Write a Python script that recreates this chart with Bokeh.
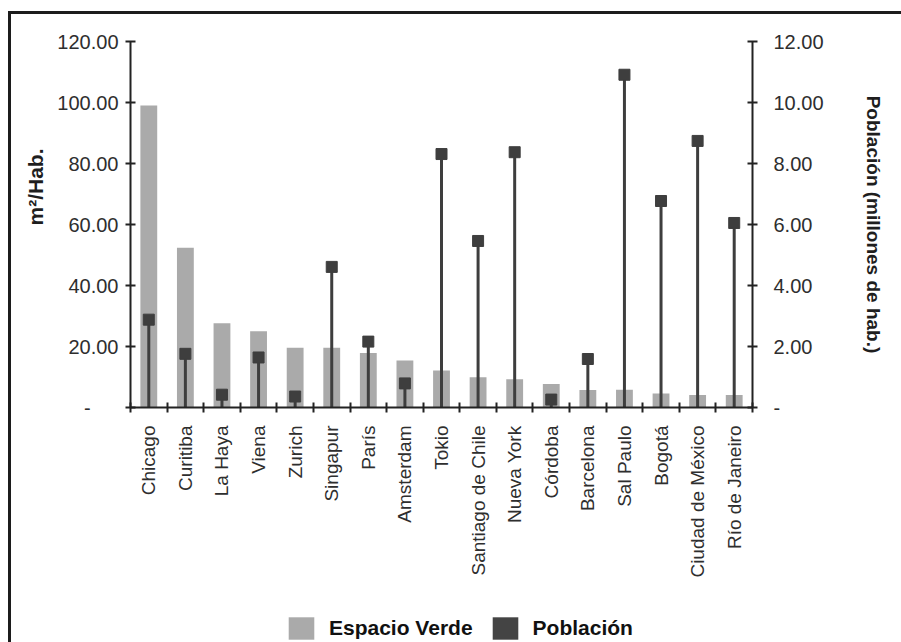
import math
from bokeh.plotting import figure
from bokeh.layouts import column
from bokeh.models import (Range1d, LinearAxis, FixedTicker, NumeralTickFormatter,
                          Legend, LegendItem, ColumnDataSource, Title)
from bokeh.embed import file_html
from bokeh.resources import INLINE

# ---- data ----
cities = ["Chicago", "Curitiba", "La Haya", "Viena", "Zurich", "Singapur", "París",
          "Amsterdam", "Tokio", "Santiago de Chile", "Nueva York", "Córdoba",
          "Barcelona", "Sal Paulo", "Bogotá", "Ciudad de México", "Río de Janeiro"]
espacio_verde = [99.0, 52.4, 27.6, 25.0, 19.6, 19.6, 17.9, 15.4, 12.1, 9.9, 9.3,
                 7.7, 5.7, 5.8, 4.6, 4.1, 4.1]
poblacion = [2.88, 1.76, 0.42, 1.64, 0.36, 4.61, 2.16, 0.79, 8.31, 5.46, 8.37,
             0.26, 1.59, 10.91, 6.77, 8.74, 6.05]
left_ticks = [0, 20, 40, 60, 80, 100, 120]
right_ticks = [0, 2, 4, 6, 8, 10, 12]
series_names = ["Espacio Verde", "Población"]

FONT = "Liberation Sans"
BAR = "#aaaaaa"
DARK = "#3e3e3e"
LEG_DARK = "#444444"
AX = "#222222"
TXT = "#2e2e2e"

n = len(cities)
xs = [i + 0.5 for i in range(n)]
bounds = [float(i) for i in range(n + 1)]

src = ColumnDataSource(dict(x=xs, verde=espacio_verde, pop=poblacion))

p = figure(width=890, height=594, x_range=Range1d(0, n), y_range=Range1d(0, 120),
           output_backend="svg", toolbar_location=None,
           x_axis_location=None, y_axis_location=None,
           min_border_left=119, min_border_right=149,
           min_border_top=27, min_border_bottom=201)
p.extra_y_ranges = {"pop": Range1d(0, 12)}
p.outline_line_color = None
p.grid.visible = False
p.background_fill_color = "white"
p.border_fill_color = "white"

p.vbar(x="x", top="verde", bottom=0, width=0.46, source=src,
       fill_color=BAR, line_color=None)
p.segment(x0="x", y0=0, x1="x", y1="pop", source=src, y_range_name="pop",
          line_color=DARK, line_width=3)
p.scatter(x="x", y="pop", source=src, y_range_name="pop", marker="square",
          size=11, fill_color=DARK, line_color=DARK)


def style_axis(ax, size="20px"):
    ax.axis_line_color = AX
    ax.axis_line_width = 2
    ax.major_tick_line_color = AX
    ax.major_tick_line_width = 2
    ax.minor_tick_line_color = None
    ax.major_label_text_font = FONT
    ax.major_label_text_font_size = size
    ax.major_label_text_color = TXT
    ax.axis_label_text_font = FONT
    ax.axis_label_text_font_size = "19px"
    ax.axis_label_text_font_style = "bold"
    ax.axis_label_text_color = "#1e1e1e"


# x axis: labels at category centres, ticks at category boundaries
xaxis = LinearAxis(ticker=FixedTicker(ticks=xs, minor_ticks=bounds),
                   major_label_overrides={x: c for x, c in zip(xs, cities)})
style_axis(xaxis, "19px")
xaxis.major_tick_in = 0
xaxis.major_tick_out = 0
xaxis.minor_tick_line_color = AX
xaxis.minor_tick_line_width = 2
xaxis.minor_tick_in = 5
xaxis.minor_tick_out = 5
xaxis.major_label_orientation = math.pi / 2
xaxis.major_label_standoff = 13
p.add_layout(xaxis, "below")

laxis = LinearAxis(ticker=FixedTicker(ticks=left_ticks),
                   formatter=NumeralTickFormatter(format="0.00"),
                   major_label_overrides={0: "-" + "\u00a0" * 5})
style_axis(laxis)
laxis.major_tick_in = 5
laxis.major_tick_out = 5
laxis.major_label_standoff = 7
p.add_layout(laxis, "left")

p.add_layout(Title(text="m²/Hab.", align="left", offset=182, standoff=16,
                   text_font=FONT, text_font_size="21px", text_font_style="bold",
                   text_color="#1e1e1e"), "left")

raxis = LinearAxis(y_range_name="pop", ticker=FixedTicker(ticks=right_ticks),
                   formatter=NumeralTickFormatter(format="0.00"),
                   major_label_overrides={0: "-"},
                   axis_label="Población (millones de hab.)")
style_axis(raxis)
raxis.major_tick_in = 5
raxis.major_tick_out = 5
raxis.major_label_standoff = 16
raxis.axis_label_standoff = 36
p.add_layout(raxis, "right")

# ---- legend strip below the chart (frames are aligned by the column) ----
lg = figure(width=890, height=34, x_range=Range1d(0, 1), y_range=Range1d(0, 1),
            output_backend="svg", toolbar_location=None,
            x_axis_location=None, y_axis_location=None, min_border=0)
lg.outline_line_color = None
lg.grid.visible = False
lg.border_fill_color = "white"
lg_src = ColumnDataSource(dict(x=[0.5, 0.5], top=[0.0, 0.0],
                               color=[BAR, LEG_DARK], name=series_names))
r_leg = lg.vbar(x="x", top="top", bottom=0, width=0.0, source=lg_src,
                fill_color="color", line_color=None)

legend = Legend(items=[LegendItem(label=series_names[0], renderers=[r_leg], index=0),
                       LegendItem(label=series_names[1], renderers=[r_leg], index=1)],
                orientation="horizontal", location=(155, 0),
                glyph_width=32, glyph_height=28, label_standoff=12, spacing=16,
                padding=0, margin=0, border_line_color=None,
                background_fill_alpha=0,
                label_text_font=FONT, label_text_font_size="21px",
                label_text_font_style="bold", label_text_color="#111111",
                label_height=28)
lg.add_layout(legend, "center")

layout = column(p, lg, spacing=0)
layout.styles = {"margin-left": "8px", "margin-top": "11px",
                 "border-top": "3px solid #1c1c1c", "border-left": "3px solid #1c1c1c"}

open("out.html", "w").write(file_html(layout, INLINE))
